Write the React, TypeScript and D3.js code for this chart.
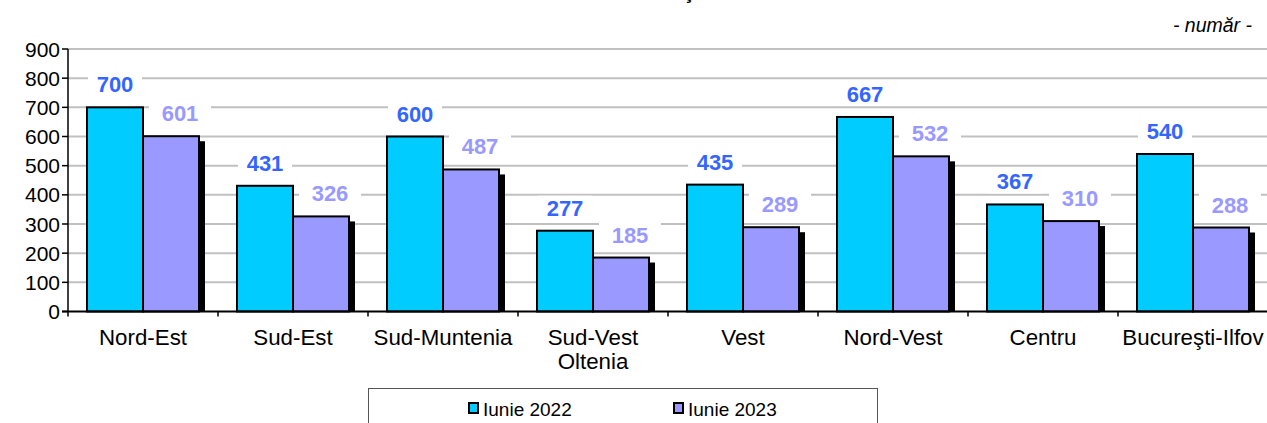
import React from "react";
import * as d3 from "d3";

const categories: string[][] = [
  ["Nord-Est"],
  ["Sud-Est"],
  ["Sud-Muntenia"],
  ["Sud-Vest", "Oltenia"],
  ["Vest"],
  ["Nord-Vest"],
  ["Centru"],
  ["Bucureşti-Ilfov"],
];
const series2022: number[] = [700, 431, 600, 277, 435, 667, 367, 540];
const series2023: number[] = [601, 326, 487, 185, 289, 532, 310, 288];
const yTicks: number[] = [0, 100, 200, 300, 400, 500, 600, 700, 800, 900];
const seriesNames = ["Iunie 2022", "Iunie 2023"];
const unitLabel = "- număr -";
const titleTail = "ţ";

const W = 1267;
const H = 423;
const FONT = "Liberation Sans, Arial, Helvetica, sans-serif";
const BLUE = "#00ccff";
const PURPLE = "#9999ff";
const BLUE_LBL = "#3366ff";
const PURPLE_LBL = "#9999ff";
const GRID = "#c0c0c0";

export default function App() {
  const left = 68;
  const right = 1268;
  const top = 49;
  const bottom = 311.5;

  const x = d3
    .scaleBand<number>()
    .domain(d3.range(categories.length))
    .range([left, right])
    .paddingInner(0)
    .paddingOuter(0);
  const y = d3.scaleLinear().domain([0, 900]).range([bottom, top]);

  const band = x.bandwidth();
  const gap = 19;
  const barW = (band - 2 * gap) / 2;
  const shOff = 6;

  const labelBoxes: { x: number; y: number; w: number; h: number }[] = [];
  categories.forEach((_, i) => {
    const x0 = (x(i) as number) + gap;
    labelBoxes.push({ x: x0 + barW / 2 - 27, y: y(series2022[i]) - 35, w: 54, h: 24 });
    labelBoxes.push({ x: x0 + barW * 1.5 + 9 - 31, y: y(series2023[i]) - 35, w: 62, h: 24 });
  });

  return (
    <svg
      width={W}
      height={H}
      style={{ position: "absolute", left: 0, top: 0, background: "#fff" }}
      fontFamily={FONT}
    >
      <rect x={0} y={0} width={W} height={H} fill="#fff" />
      <text x={688} y={-1} textAnchor="middle" fontWeight="bold" fontSize={21} fill="#000">
        {titleTail}
      </text>
      <text x={1252} y={32} textAnchor="end" fontStyle="italic" fontSize={19.5} fill="#000">
        {unitLabel}
      </text>

      {yTicks
        .filter((t) => t > 0)
        .map((t) => (
          <line key={t} x1={left} x2={right} y1={y(t)} y2={y(t)} stroke={GRID} strokeWidth={2} />
        ))}

      {labelBoxes.map((b, i) => (
        <rect key={i} x={b.x} y={b.y} width={b.w} height={b.h} fill="#fff" />
      ))}

      {categories.map((_, i) => {
        const x0 = (x(i) as number) + gap;
        const yTop = y(series2023[i]) + 5;
        return (
          <rect
            key={"sh" + i}
            x={x0 + barW + shOff}
            y={yTop}
            width={barW}
            height={bottom - yTop}
            fill="#000"
          />
        );
      })}

      {categories.map((_, i) => {
        const x0 = (x(i) as number) + gap;
        return (
          <g key={"b" + i}>
            <rect
              x={x0}
              y={y(series2022[i])}
              width={barW}
              height={bottom - y(series2022[i])}
              fill={BLUE}
              stroke="#000"
              strokeWidth={2}
            />
            <rect
              x={x0 + barW}
              y={y(series2023[i])}
              width={barW}
              height={bottom - y(series2023[i])}
              fill={PURPLE}
              stroke="#000"
              strokeWidth={2}
            />
          </g>
        );
      })}

      {categories.map((_, i) => {
        const x0 = (x(i) as number) + gap;
        return (
          <g key={"l" + i} fontWeight="bold" fontSize={22} textAnchor="middle">
            <text x={x0 + barW / 2} y={y(series2022[i]) - 15} fill={BLUE_LBL}>
              {series2022[i]}
            </text>
            <text x={x0 + barW * 1.5 + 9} y={y(series2023[i]) - 15} fill={PURPLE_LBL}>
              {series2023[i]}
            </text>
          </g>
        );
      })}

      <line x1={left} x2={left} y1={top} y2={bottom} stroke="#000" strokeWidth={1.5} />
      {yTicks.map((t) => (
        <g key={"yt" + t}>
          <line x1={left - 6} x2={left} y1={y(t)} y2={y(t)} stroke="#000" strokeWidth={1.5} />
          <text x={left - 8} y={y(t) + 7.5} textAnchor="end" fontSize={21} fill="#000">
            {t}
          </text>
        </g>
      ))}

      <line x1={left - 6} x2={right} y1={bottom} y2={bottom} stroke="#000" strokeWidth={2} />
      {d3.range(categories.length + 1).map((i) => {
        const xx = left + i * band;
        return <line key={"xt" + i} x1={xx} x2={xx} y1={bottom} y2={bottom + 5} stroke="#000" strokeWidth={1.5} />;
      })}
      {categories.map((lines, i) => (
        <text
          key={"c" + i}
          x={(x(i) as number) + band / 2}
          y={345}
          textAnchor="middle"
          fontSize={22.3}
          fill="#000"
        >
          {lines.map((ln, j) => (
            <tspan key={j} x={(x(i) as number) + band / 2} dy={j === 0 ? 0 : 23.5}>
              {ln}
            </tspan>
          ))}
        </text>
      ))}

      <rect x={368.5} y={388.5} width={509} height={60} fill="#fff" stroke="#555" strokeWidth={1} />
      {seriesNames.map((n, i) => {
        const lx = i === 0 ? 468 : 673;
        return (
          <g key={"lg" + i}>
            <rect x={lx + 1} y={403} width={9} height={10} fill={i === 0 ? BLUE : PURPLE} stroke="#000" strokeWidth={2} />
            <text x={lx + 15} y={416} fontSize={19} fill="#000">
              {n}
            </text>
          </g>
        );
      })}
    </svg>
  );
}
